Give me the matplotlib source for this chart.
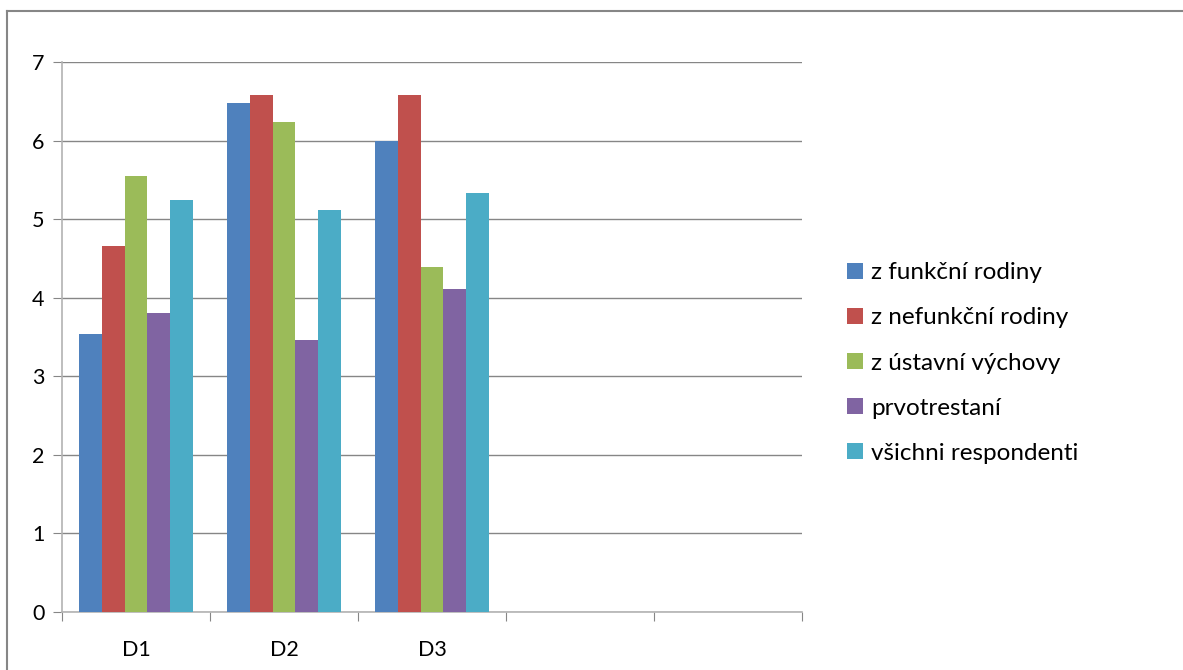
import matplotlib
matplotlib.use("Agg")
import matplotlib.pyplot as plt
from matplotlib.lines import Line2D
import numpy as np

plt.rcParams['font.family'] = ['Lato', 'DejaVu Sans']

categories = ["D1", "D2", "D3", "", ""]
series_names = ["z funkční rodiny", "z nefunkční rodiny", "z ústavní výchovy",
                "prvotrestaní", "všichni respondenti"]
series_colors = ["#4f81bd", "#c0504d", "#9bbb59", "#8064a2", "#4bacc6"]

funkcni = [3.54, 6.48, 6.00]
nefunkcni = [4.66, 6.58, 6.58]
ustavni = [5.55, 6.24, 4.39]
prvotrestani = [3.80, 3.46, 4.11]
vsichni = [5.24, 5.12, 5.33]
values = [funkcni, nefunkcni, ustavni, prvotrestani, vsichni]

W, H = 1183, 670
fig = plt.figure(figsize=(W / 100, H / 100), dpi=100)

# chart border (only top and left edges are visible in the crop)
border = dict(transform=fig.transFigure, color="#868686", linewidth=1.5)
fig.lines.append(Line2D([7 / W, 1], [1 - 11 / H, 1 - 11 / H], **border))
fig.lines.append(Line2D([7 / W, 7 / W], [0, 1 - 11 / H], **border))

ax = fig.add_axes([62 / W, 1 - 612 / H, (802 - 62) / W, (612 - 62) / H])

n = len(values)
bar_w = 1 / (n + 1.5)
for i, (vals, name, col) in enumerate(zip(values, series_names, series_colors)):
    x = np.arange(len(vals)) + 0.5 + (i - (n - 1) / 2) * bar_w
    ax.bar(x, vals, width=bar_w, color=col, label=name, zorder=3)

ax.set_xlim(0, len(categories))
ax.set_ylim(0, 7)
ax.set_yticks(range(0, 8))
ax.yaxis.grid(True, color="#868686", linewidth=1, zorder=0)

ax.set_xticks(np.arange(len(categories) + 1))
ax.set_xticklabels([])
ax.set_xticks(np.arange(len(categories)) + 0.5, minor=True)
ax.set_xticklabels(categories, minor=True)
ax.tick_params(axis="x", which="major", length=6.5, color="#868686", direction="out")
ax.tick_params(axis="x", which="minor", length=0, pad=20, labelsize=15.5)
ax.tick_params(axis="y", length=6.5, color="#868686", labelsize=15.5, pad=6)

for s in ["top", "right"]:
    ax.spines[s].set_visible(False)
for s in ["left", "bottom"]:
    ax.spines[s].set_color("#b3b3b3")
    ax.spines[s].set_linewidth(1.2)

leg = fig.legend(loc="center left", bbox_to_anchor=(847 / W, 1 - 363 / H), frameon=False,
                 fontsize=17.5, handlelength=0.66, handleheight=0.66, handletextpad=0.33,
                 labelspacing=0.99, borderpad=0, borderaxespad=0)

fig.savefig("out.png", dpi=100)
